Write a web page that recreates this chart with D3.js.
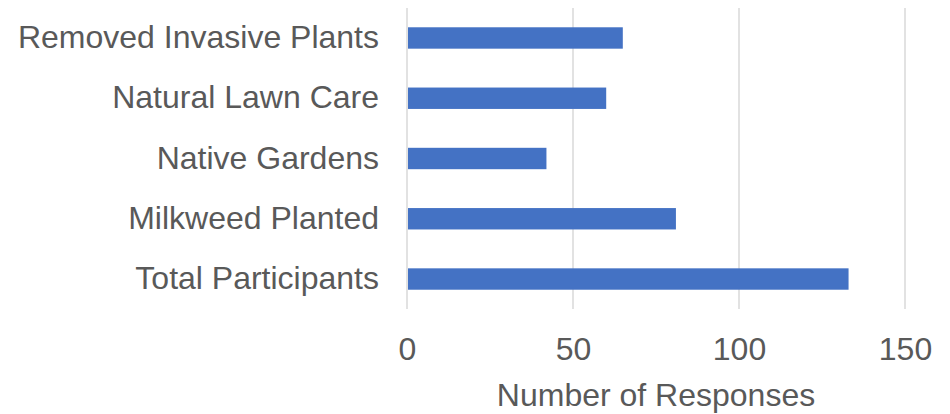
<!DOCTYPE html>
<html>
<head>
<meta charset="utf-8">
<script src="https://cdn.jsdelivr.net/npm/d3@7"></script>
<style>
  body { margin: 0; background: #fff; }
  text { font-family: "Liberation Sans", Arial, sans-serif; fill: #595959; }
</style>
</head>
<body>
<svg id="chart" width="950" height="414"></svg>
<script>
// data
const categories = ["Removed Invasive Plants", "Natural Lawn Care", "Native Gardens", "Milkweed Planted", "Total Participants"];
const responses = [65, 60, 42, 81, 133];
const xTicks = [0, 50, 100, 150];

// chart setup
const svg = d3.select("#chart");
const margin = { top: 8, right: 45, bottom: 105, left: 407 };
const width = +svg.attr("width") - margin.left - margin.right;
const height = +svg.attr("height") - margin.top - margin.bottom;
const g = svg.append("g")
            .attr("transform", "translate(" + margin.left + "," + margin.top + ")");

const x = d3.scaleLinear().domain([0, 150]).range([0, 498]);
const y = d3.scaleBand().domain(categories).range([0, height]).paddingInner(0.645).paddingOuter(0.32);

// gridlines
g.selectAll("line.grid")
  .data(xTicks)
  .join("line")
  .attr("class", "grid")
  .attr("x1", d => x(d))
  .attr("x2", d => x(d))
  .attr("y1", 0)
  .attr("y2", height)
  .attr("stroke", "#d9d9d9")
  .attr("stroke-width", 1.5);

// bars
g.selectAll("rect.bar")
  .data(responses)
  .join("rect")
  .attr("class", "bar")
  .attr("x", x(0) + 1)
  .attr("y", (d, i) => y(categories[i]))
  .attr("width", d => x(d) - x(0) - 1)
  .attr("height", y.bandwidth())
  .attr("fill", "#4472c4");

// category labels
const yAxis = d3.axisLeft(y).tickSize(0).tickPadding(28);
g.append("g")
  .call(yAxis)
  .call(a => a.select(".domain").remove())
  .selectAll("text")
  .style("font-size", "32px")
  .attr("fill", "#595959");

// x axis
const xAxis = d3.axisBottom(x).tickValues(xTicks).tickSize(0).tickPadding(28);
g.append("g")
  .attr("transform", "translate(0," + height + ")")
  .call(xAxis)
  .call(a => a.select(".domain").remove())
  .selectAll("text")
  .style("font-size", "32px")
  .attr("fill", "#595959");

// axis title
svg.append("text")
  .attr("x", margin.left + x(75))
  .attr("y", 406)
  .attr("text-anchor", "middle")
  .style("font-size", "32px")
  .text("Number of Responses");
</script>
</body>
</html>
